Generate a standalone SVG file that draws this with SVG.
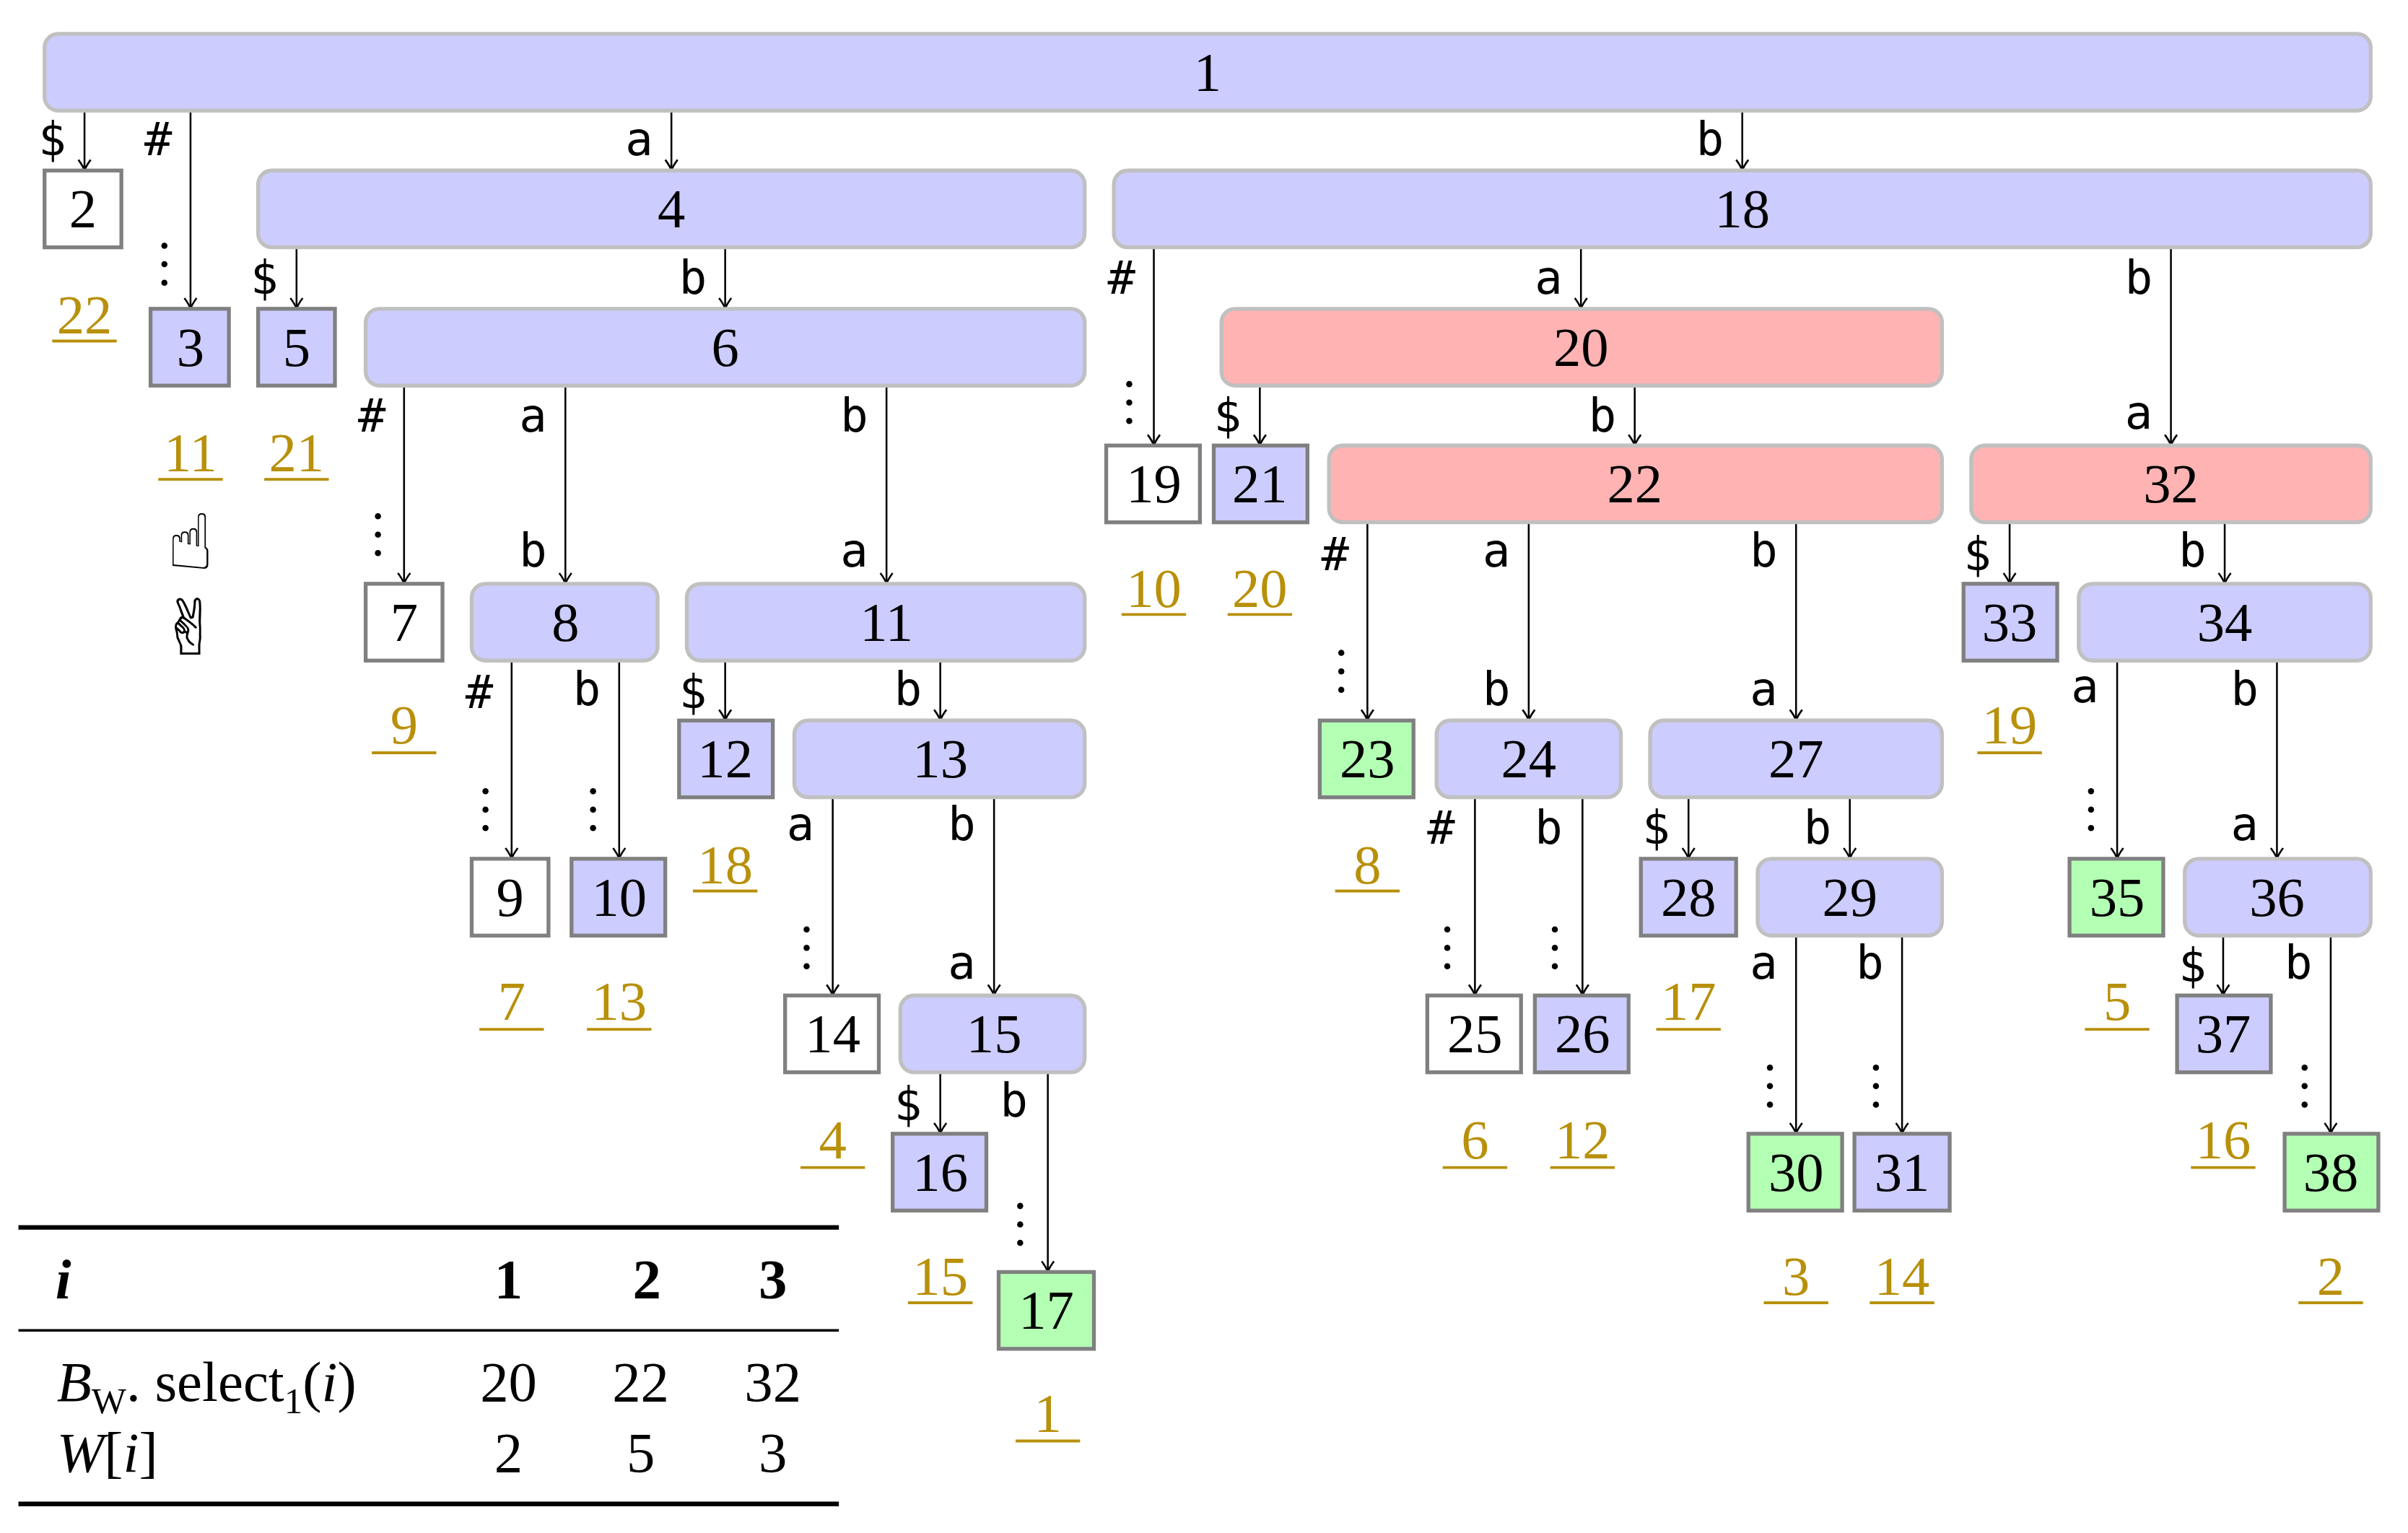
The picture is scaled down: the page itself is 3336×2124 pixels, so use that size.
<svg xmlns="http://www.w3.org/2000/svg" width="3336" height="2124" viewBox="0 0 3336 2124">
<style>
.b{fill:#ccccff;stroke:#c0c0c0;stroke-width:2.5}
.r{fill:#ffb3b3;stroke:#c0c0c0;stroke-width:2.5}
.sq{stroke:#808080;stroke-width:2.5}
.w{fill:#ffffff}.bl{fill:#ccccff}.gr{fill:#b3ffb3}
.n{font-family:"Liberation Serif",serif;font-size:36px;text-anchor:middle;fill:#000}
.l{font-family:"DejaVu Sans Mono",monospace;font-size:30px;text-anchor:middle;fill:#000}
.g{font-family:"Liberation Serif",serif;font-size:36px;text-anchor:middle;fill:#b8900a}
.u{stroke:#b8900a;stroke-width:1.8}
.e{stroke:#000;stroke-width:1.2;fill:none;marker-end:url(#ah)}
.t{font-family:"Liberation Serif",serif;font-size:37px;fill:#000}
</style>
<defs>
<marker id="ah" markerWidth="10" markerHeight="10" refX="5" refY="9" orient="0" markerUnits="userSpaceOnUse" viewBox="0 0 10 10"><path d="M1,2 Q4,6 5,9 Q6,6 9,2" fill="none" stroke="#000" stroke-width="1.2"/></marker>
<g id="dt"><circle cx="0" cy="0" r="2" fill="#000"/><circle cx="0" cy="12" r="2" fill="#000"/><circle cx="0" cy="24" r="2" fill="#000"/></g>
</defs>
<g transform="scale(2.1285)">
<g id="connectors">
<path class="e" d="M55,72V111"/><path class="e" d="M124,72V201"/><path class="e" d="M437,72V111"/><path class="e" d="M1134,72V111"/>
<path class="e" d="M193,161V201"/><path class="e" d="M472,161V201"/><path class="e" d="M751,161V290"/><path class="e" d="M1029,161V201"/><path class="e" d="M1413,161V290"/>
<path class="e" d="M263,251V380"/><path class="e" d="M368,251V380"/><path class="e" d="M577,251V380"/><path class="e" d="M820,251V290"/><path class="e" d="M1064,251V290"/>
<path class="e" d="M890,340V469"/><path class="e" d="M995,340V469"/><path class="e" d="M1169,340V469"/><path class="e" d="M1308,340V380"/><path class="e" d="M1448,340V380"/>
<path class="e" d="M333,430V559"/><path class="e" d="M403,430V559"/><path class="e" d="M472,430V469"/><path class="e" d="M612,430V469"/><path class="e" d="M1378,430V559"/><path class="e" d="M1482,430V559"/>
<path class="e" d="M542,519V648"/><path class="e" d="M647,519V648"/><path class="e" d="M960,519V648"/><path class="e" d="M1030,519V648"/><path class="e" d="M1099,519V559"/><path class="e" d="M1204,519V559"/>
<path class="e" d="M1169,609V738"/><path class="e" d="M1238,609V738"/><path class="e" d="M1447,609V648"/><path class="e" d="M1517,609V738"/>
<path class="e" d="M612,698V738"/><path class="e" d="M682,698V828"/>
<g class="l">
<text x="34" y="101">$</text><text x="103" y="101">#</text><text x="416" y="101">a</text><text x="1113" y="101">b</text>
<text x="172" y="191">$</text><text x="451" y="191">b</text><text x="730" y="191">#</text><text x="1008" y="191">a</text><text x="1392" y="191">b</text><text x="1392" y="279">a</text>
<text x="242" y="281">#</text><text x="347" y="281">a</text><text x="347" y="369">b</text><text x="556" y="281">b</text><text x="556" y="369">a</text><text x="799" y="281">$</text><text x="1043" y="281">b</text>
<text x="869" y="371">#</text><text x="974" y="369">a</text><text x="974" y="459">b</text><text x="1148" y="369">b</text><text x="1148" y="459">a</text><text x="1287" y="371">$</text><text x="1427" y="369">b</text>
<text x="312" y="461">#</text><text x="382" y="459">b</text><text x="451" y="461">$</text><text x="591" y="459">b</text><text x="1357" y="457">a</text><text x="1461" y="459">b</text><text x="1461" y="547">a</text>
<text x="521" y="547">a</text><text x="626" y="547">b</text><text x="626" y="637">a</text><text x="938" y="549">#</text><text x="1008" y="549">b</text><text x="1078" y="549">$</text><text x="1183" y="549">b</text>
<text x="1148" y="637">a</text><text x="1217" y="637">b</text><text x="1427" y="639">$</text><text x="1496" y="637">b</text>
<text x="591" y="729">$</text><text x="660" y="727">b</text>
</g>
<use href="#dt" x="107" y="160"/><use href="#dt" x="735" y="250"/><use href="#dt" x="246" y="336"/><use href="#dt" x="873" y="425"/>
<use href="#dt" x="316" y="515"/><use href="#dt" x="386" y="515"/><use href="#dt" x="1361" y="515"/>
<use href="#dt" x="525" y="605"/><use href="#dt" x="942" y="605"/><use href="#dt" x="1012" y="605"/>
<use href="#dt" x="1152" y="695"/><use href="#dt" x="1221" y="695"/><use href="#dt" x="1500" y="695"/><use href="#dt" x="664" y="785"/>
</g>
<g id="n1"><rect class="b" x="29" y="22" width="1514" height="50" rx="9"/><text class="n" x="786" y="59">1</text></g>
<g id="n2"><rect class="sq w" x="29" y="111" width="50" height="50"/><text class="n" x="54" y="148">2</text></g>
<g id="n4"><rect class="b" x="168" y="111" width="538" height="50" rx="9"/><text class="n" x="437" y="148">4</text></g>
<g id="n18"><rect class="b" x="725" y="111" width="818" height="50" rx="9"/><text class="n" x="1134" y="148">18</text></g>
<g id="n3"><rect class="sq bl" x="98" y="201" width="51" height="50"/><text class="n" x="124" y="238">3</text></g>
<g id="n5"><rect class="sq bl" x="168" y="201" width="50" height="50"/><text class="n" x="193" y="238">5</text></g>
<g id="n6"><rect class="b" x="238" y="201" width="468" height="50" rx="9"/><text class="n" x="472" y="238">6</text></g>
<g id="n20"><rect class="r" x="795" y="201" width="469" height="50" rx="9"/><text class="n" x="1029" y="238">20</text></g>
<g id="n19"><rect class="sq w" x="720" y="290" width="61" height="50"/><text class="n" x="751" y="327">19</text></g>
<g id="n21"><rect class="sq bl" x="790" y="290" width="61" height="50"/><text class="n" x="820" y="327">21</text></g>
<g id="n22"><rect class="r" x="865" y="290" width="399" height="50" rx="9"/><text class="n" x="1064" y="327">22</text></g>
<g id="n32"><rect class="r" x="1283" y="290" width="260" height="50" rx="9"/><text class="n" x="1413" y="327">32</text></g>
<g id="n7"><rect class="sq w" x="238" y="380" width="50" height="50"/><text class="n" x="263" y="417">7</text></g>
<g id="n8"><rect class="b" x="307" y="380" width="121" height="50" rx="9"/><text class="n" x="368" y="417">8</text></g>
<g id="n11"><rect class="b" x="447" y="380" width="259" height="50" rx="9"/><text class="n" x="577" y="417">11</text></g>
<g id="n33"><rect class="sq bl" x="1278" y="380" width="61" height="50"/><text class="n" x="1308" y="417">33</text></g>
<g id="n34"><rect class="b" x="1353" y="380" width="190" height="50" rx="9"/><text class="n" x="1448" y="417">34</text></g>
<g id="n12"><rect class="sq bl" x="442" y="469" width="61" height="50"/><text class="n" x="472" y="506">12</text></g>
<g id="n13"><rect class="b" x="517" y="469" width="189" height="50" rx="9"/><text class="n" x="612" y="506">13</text></g>
<g id="n23"><rect class="sq gr" x="859" y="469" width="61" height="50"/><text class="n" x="890" y="506">23</text></g>
<g id="n24"><rect class="b" x="935" y="469" width="120" height="50" rx="9"/><text class="n" x="995" y="506">24</text></g>
<g id="n27"><rect class="b" x="1074" y="469" width="190" height="50" rx="9"/><text class="n" x="1169" y="506">27</text></g>
<g id="n9"><rect class="sq w" x="307" y="559" width="50" height="50"/><text class="n" x="332" y="596">9</text></g>
<g id="n10"><rect class="sq bl" x="372" y="559" width="61" height="50"/><text class="n" x="403" y="596">10</text></g>
<g id="n28"><rect class="sq bl" x="1068" y="559" width="62" height="50"/><text class="n" x="1099" y="596">28</text></g>
<g id="n29"><rect class="b" x="1144" y="559" width="120" height="50" rx="9"/><text class="n" x="1204" y="596">29</text></g>
<g id="n35"><rect class="sq gr" x="1347" y="559" width="61" height="50"/><text class="n" x="1378" y="596">35</text></g>
<g id="n36"><rect class="b" x="1422" y="559" width="121" height="50" rx="9"/><text class="n" x="1482" y="596">36</text></g>
<g id="n14"><rect class="sq w" x="511" y="648" width="61" height="50"/><text class="n" x="542" y="685">14</text></g>
<g id="n15"><rect class="b" x="586" y="648" width="120" height="50" rx="9"/><text class="n" x="647" y="685">15</text></g>
<g id="n25"><rect class="sq w" x="929" y="648" width="61" height="50"/><text class="n" x="960" y="685">25</text></g>
<g id="n26"><rect class="sq bl" x="999" y="648" width="61" height="50"/><text class="n" x="1030" y="685">26</text></g>
<g id="n37"><rect class="sq bl" x="1417" y="648" width="61" height="50"/><text class="n" x="1447" y="685">37</text></g>
<g id="n16"><rect class="sq bl" x="581" y="738" width="61" height="50"/><text class="n" x="612" y="775">16</text></g>
<g id="n30"><rect class="sq gr" x="1138" y="738" width="61" height="50"/><text class="n" x="1169" y="775">30</text></g>
<g id="n31"><rect class="sq bl" x="1207" y="738" width="62" height="50"/><text class="n" x="1238" y="775">31</text></g>
<g id="n38"><rect class="sq gr" x="1487" y="738" width="61" height="50"/><text class="n" x="1517" y="775">38</text></g>
<g id="n17"><rect class="sq gr" x="650" y="828" width="62" height="50"/><text class="n" x="681" y="865">17</text></g>
<g id="suffix-numbers">
<g class="g">
<text x="55" y="217">22</text><text x="124" y="307">11</text><text x="193" y="307">21</text><text x="263" y="484">9</text>
<text x="333" y="664">7</text><text x="403" y="664">13</text><text x="472" y="575">18</text><text x="542" y="754">4</text>
<text x="612" y="843">15</text><text x="682" y="932">1</text><text x="751" y="395">10</text><text x="820" y="395">20</text>
<text x="890" y="575">8</text><text x="960" y="754">6</text><text x="1030" y="754">12</text><text x="1099" y="664">17</text>
<text x="1169" y="843">3</text><text x="1238" y="843">14</text><text x="1308" y="484">19</text><text x="1378" y="664">5</text>
<text x="1447" y="754">16</text><text x="1517" y="843">2</text>
</g>
<g class="u">
<path d="M34,222h42M103,312h42M172,312h42M242,490h42M312,670h42M382,670h42M451,580h42M521,760h42M591,848h42M661,938h42M730,400h42M799,400h42M869,580h42M939,760h42M1009,760h42M1078,670h42M1148,848h42M1217,848h42M1287,490h42M1357,670h42M1426,760h42M1496,848h42"/>
</g>
</g>
<g id="hands" font-family="DejaVu Sans,sans-serif" font-size="50" text-anchor="middle">
<text x="124" y="370">☝</text><text x="124" y="426">✌</text>
</g>
<g id="table">
<path d="M12,799H546M12,979H546" stroke="#000" stroke-width="3"/>
<path d="M12,866H546" stroke="#000" stroke-width="1.6"/>
<text class="t" x="36" y="845" font-style="italic" font-weight="bold">i</text>
<g class="t" text-anchor="middle" font-weight="bold"><text x="331" y="845">1</text><text x="421" y="845">2</text><text x="503" y="845">3</text></g>
<text class="t" x="37" y="912"><tspan font-style="italic">B</tspan><tspan font-size="24" dy="8">W</tspan><tspan dy="-8">. select</tspan><tspan font-size="24" dy="8">1</tspan><tspan dy="-8">(</tspan><tspan font-style="italic">i</tspan>)</text>
<text class="t" x="37" y="958"><tspan font-style="italic">W</tspan>[<tspan font-style="italic">i</tspan>]</text>
<g class="t" text-anchor="middle"><text x="331" y="912">20</text><text x="417" y="912">22</text><text x="503" y="912">32</text><text x="331" y="958">2</text><text x="417" y="958">5</text><text x="503" y="958">3</text></g>
</g>
</g>
</svg>
